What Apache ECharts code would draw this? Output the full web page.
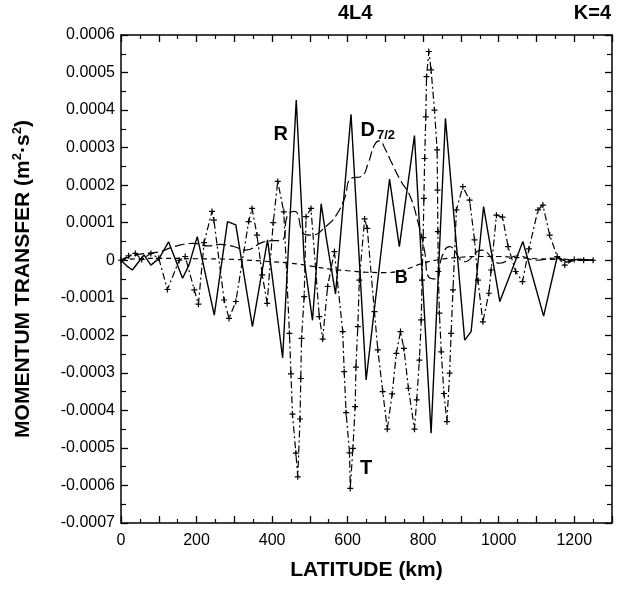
<!DOCTYPE html>
<html>
<head>
<meta charset="utf-8">
<script src="https://cdn.jsdelivr.net/npm/echarts@6/dist/echarts.min.js"></script>
<style>
  html, body { margin: 0; padding: 0; background: #fff; }
  #main { width: 622px; height: 591px; }
</style>
</head>
<body>
<div id="main"></div>
<script>
// values are in units of 1e-4 m^2 s^-2 (tick labels convert back)
// R : solid line
const rLat = [0, 15, 30, 61, 79, 101, 126, 163, 180, 202, 247, 282, 304, 348, 388, 428, 464, 485, 507, 530, 545, 568, 609, 649, 711, 737, 777, 821, 859, 910, 927, 960, 1003, 1064, 1119, 1155, 1180, 1210, 1250];
const rVal = [0, -0.15, -0.26, 0.14, -0.13, 0.05, 0.49, -0.48, -0.13, 0.63, -1.46, 1.03, 0.94, -1.77, 0.54, -2.6, 4.27, 0.0, -1.6, 1.5, 0.5, -0.9, 3.89, -3.19, 2.16, 0.36, 3.32, -4.61, 3.78, -2.13, -1.9, 1.43, -1.1, 0.5, -1.49, 0.1, -0.05, 0.03, 0];

// T : dash-dot line with + marks
const tLat = [0, 20, 38, 55, 79, 100, 123, 154, 170, 194, 205, 220, 241, 246, 273, 286, 304, 338, 347, 360, 374, 387, 403, 415, 431,
  446, 450, 454, 463, 468, 474, 476, 478, 485, 490, 503, 525, 534, 547, 565,
  587, 591, 596, 605, 607, 614, 620, 622, 627, 631, 645, 652, 671, 680, 693, 705, 718, 729, 740, 749, 761, 777, 783, 790, 795, 797,
  800, 802, 804, 807, 809, 815, 821, 830, 837, 838, 839, 840, 843, 848, 855, 863, 870, 874, 879, 888, 905, 923, 936, 945, 958, 974, 980,
  994, 1010, 1025, 1045, 1063, 1080, 1104, 1117, 1135, 1155, 1175, 1200, 1225, 1250];
const tVal = [0, 0.12, 0.18, 0.02, 0.18, 0.05, -0.78, 0.0, 0.1, -0.79, -1.17, 0.47, 1.3, 1.07, -1.06, -1.55, -1.1, 1.03, 1.38, 0.67, -0.39, -1.15, 1.0, 2.1, 1.29,
  -1.95, -3.03, -4.1, -5.14, -5.77, -4.23, -3.15, -2.08, -0.97, 1.16, 1.38, -1.5, -2.1, -0.7, 0.23,
  -1.9, -2.97, -4.06, -5.13, -6.08, -5.01, -3.9, -2.85, -1.77, -0.53, 1.1, 0.85, -1.37, -2.39, -3.5, -4.5, -3.56, -2.48, -1.9, -2.35, -3.41, -4.5, -3.72, -2.66, -1.59, -0.53,
  0.6, 1.65, 2.71, 3.82, 4.89, 5.56, 5.07, 4.0, 2.94, 1.87, 0.76, -0.3, -1.41, -2.44, -3.55, -4.3, -3.01, -1.95, -0.79, 1.34, 1.96, 1.6, 0.54, -0.53, -1.64, -0.88, -0.26,
  1.2, 1.15, 0.36, -0.3, -0.57, 0.3, 1.34, 1.47, 0.67, 0.1, -0.13, 0.02, 0.0, 0.0];

// D7/2 : long dashes
const dLat = [0, 40, 100, 140, 193, 230, 263, 300, 330, 378, 428, 441, 460, 485, 503, 547, 570, 592, 609, 636, 655, 671, 684, 700, 715, 742, 764, 786, 804, 815, 835, 850, 870, 910, 954, 1003, 1050, 1100, 1150, 1200, 1250];
const dVal = [0, 0.14, 0.22, 0.36, 0.45, 0.38, 0.42, 0.36, 0.27, 0.49, 0.55, 1.2, 1.3, 0.7, 0.67, 0.94, 1.2, 1.65, 2.18, 2.23, 2.6, 3.07, 3.18, 2.95, 2.63, 2.09, 1.74, 1.03, 0.23, -0.45, -0.5, 0.1, 0.36, -0.04, 0.27, -0.08, 0.12, 0.0, 0.06, 0.0, 0.02];

// B : short dashes
const bLat = [0, 100, 200, 300, 400, 450, 500, 550, 600, 650, 700, 750, 800, 850, 900, 950, 1000, 1050, 1100, 1150, 1200, 1250];
const bVal = [0.02, 0.05, 0.04, 0.02, -0.04, -0.08, -0.15, -0.23, -0.28, -0.32, -0.33, -0.25, -0.08, 0.03, 0.08, 0.1, 0.1, 0.07, 0.04, 0.02, 0.0, 0.0];

const xLabelStep = 200;
const FONT = 'Liberation Sans';

var chartDom = document.getElementById('main');
var myChart = echarts.init(chartDom);

const pairs = (xs, ys) => xs.map((x, i) => [x, ys[i]]);
const plus = 'path://M4,0 L6,0 L6,4 L10,4 L10,6 L6,6 L6,10 L4,10 L4,6 L0,6 L0,4 L4,4 Z';

const xBase = {
  type: 'value', min: 0, max: 1300, interval: 100,
  axisLine: { show: true, onZero: false, lineStyle: { color: '#000', width: 1.5 } },
  axisTick: { show: true, inside: true, length: 7, lineStyle: { color: '#000', width: 1.3 } },
  minorTick: { show: true, splitNumber: 2, length: 4, lineStyle: { color: '#000', width: 1.2 } },
  splitLine: { show: false }
};
const yBase = {
  type: 'value', min: -7, max: 6, interval: 1,
  axisLine: { show: true, onZero: false, lineStyle: { color: '#000', width: 1.5 } },
  axisTick: { show: true, inside: true, length: 7, lineStyle: { color: '#000', width: 1.3 } },
  minorTick: { show: true, splitNumber: 2, length: 5, lineStyle: { color: '#000', width: 1.2 } },
  splitLine: { show: false }
};

var option = {
  animation: false,
  backgroundColor: '#fff',
  grid: { left: 121, right: 10, top: 35, bottom: 68 },
  xAxis: [
    Object.assign({}, xBase, {
      position: 'bottom',
      name: 'LATITUDE (km)', nameLocation: 'middle', nameGap: 37,
      nameTextStyle: { fontFamily: FONT, fontWeight: 'bold', fontSize: 21, color: '#000' },
      axisLabel: {
        fontFamily: FONT, fontSize: 16, color: '#000', margin: 10,
        formatter: v => (v % xLabelStep === 0 ? String(v) : '')
      }
    }),
    Object.assign({}, xBase, { position: 'top', axisLabel: { show: false } })
  ],
  yAxis: [
    Object.assign({}, yBase, {
      position: 'left',
      name: 'MOMENTUM TRANSFER (m{sup|2}·s{sup|2})', nameLocation: 'middle', nameGap: 86, nameRotate: 90,
      nameTextStyle: {
        fontFamily: FONT, fontWeight: 'bold', fontSize: 21, color: '#000',
        rich: { sup: { fontFamily: FONT, fontWeight: 'bold', fontSize: 13, verticalAlign: 'top', padding: [0, 0, 11, 0] } }
      },
      axisLabel: {
        fontFamily: FONT, fontSize: 16, color: '#000', margin: 6,
        formatter: v => (v === 0 ? '0' : (v / 1e4).toFixed(4))
      }
    }),
    Object.assign({}, yBase, { position: 'right', axisLabel: { show: false } })
  ],
  graphic: [
    { type: 'text', left: 338, top: 3, style: { text: '4L4', font: 'bold 20px "Liberation Sans"', fill: '#000' } },
    { type: 'text', right: 11, top: 3, style: { text: 'K=4', font: 'bold 20px "Liberation Sans"', fill: '#000' } }
  ],
  series: [
    {
      name: 'B', type: 'line', data: pairs(bLat, bVal), smooth: true, showSymbol: false,
      lineStyle: { color: '#000', width: 1.2, type: [5, 4] },
      markPoint: {
        symbol: 'circle', symbolSize: 0,
        label: { show: true, formatter: 'B', fontFamily: FONT, fontWeight: 'bold', fontSize: 18, color: '#000' },
        data: [{ coord: [742, -0.48] }]
      }
    },
    {
      name: 'D7/2', type: 'line', data: pairs(dLat, dVal), smooth: true, showSymbol: false,
      lineStyle: { color: '#000', width: 1.2, type: [10, 4] },
      markPoint: {
        symbol: 'circle', symbolSize: 0,
        label: {
          show: true, formatter: '{d|D}{s|7/2}', color: '#000',
          rich: {
            d: { fontFamily: FONT, fontWeight: 'bold', fontSize: 20, color: '#000' },
            s: { fontFamily: FONT, fontWeight: 'bold', fontSize: 13, color: '#000', verticalAlign: 'bottom', padding: [10, 0, 0, 2] }
          }
        },
        data: [{ coord: [680, 3.45] }]
      }
    },
    {
      name: 'T', type: 'line', data: pairs(tLat, tVal), showSymbol: true,
      symbol: plus, symbolSize: 6, itemStyle: { color: '#000' },
      lineStyle: { color: '#000', width: 1.2, type: [7, 3, 2, 3] },
      markPoint: {
        symbol: 'circle', symbolSize: 0,
        label: { show: true, formatter: 'T', fontFamily: FONT, fontWeight: 'bold', fontSize: 20, color: '#000' },
        data: [{ coord: [649, -5.54] }]
      }
    },
    {
      name: 'R', type: 'line', data: pairs(rLat, rVal), showSymbol: false,
      lineStyle: { color: '#000', width: 1.4 },
      markPoint: {
        symbol: 'circle', symbolSize: 0,
        label: { show: true, formatter: 'R', fontFamily: FONT, fontWeight: 'bold', fontSize: 20, color: '#000' },
        data: [{ coord: [423, 3.34] }]
      }
    }
  ]
};

myChart.setOption(option);
</script>
</body>
</html>
